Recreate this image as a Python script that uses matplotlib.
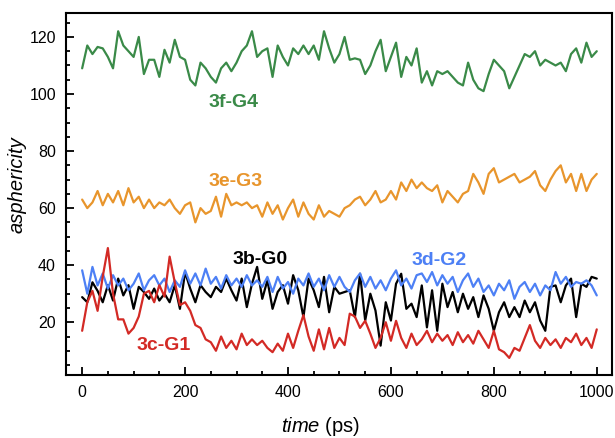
import numpy as np
import matplotlib
matplotlib.use("Agg")
import matplotlib.pyplot as plt
from matplotlib.ticker import MultipleLocator

plt.rcParams['font.family'] = ['Liberation Sans', 'DejaVu Sans']
plt.rcParams['mathtext.fontset'] = 'custom'
plt.rcParams['mathtext.it'] = 'Liberation Sans:italic'
plt.rcParams['mathtext.rm'] = 'Liberation Sans'

# simulation time, ps (every 10 ps)
time = np.arange(0, 1001, 10)

# asphericity of each generation
g4 = [109, 117, 114, 116.5, 116, 113, 109, 122, 117, 115,
      113, 120, 107, 112, 112, 106, 115.5, 111, 119, 113,
      112, 105, 103, 111, 109, 106, 104, 109, 111, 108,
      111, 115, 117, 122, 113, 115, 116, 106, 117, 113,
      110, 116, 114, 117, 114, 117, 112, 122, 116, 111,
      114, 120, 112, 112.5, 112, 107, 110, 115, 119, 108,
      113, 118, 106, 113, 110, 116, 104, 108, 103, 108,
      107, 108, 106, 104, 103, 111, 105, 102, 101, 107,
      112, 110, 108, 102, 106, 110, 114, 113, 115, 110,
      112, 111, 110, 111, 108, 114, 116, 111, 118, 113,
      115]

g3 = [63, 60, 62, 66, 61, 65, 62, 66, 61, 67,
      62, 64, 60, 63, 60, 62, 61, 63, 60, 58,
      61, 62, 55, 60, 58, 59, 64, 57, 65, 61,
      62, 61, 62, 60, 61, 57, 62, 58, 61, 56,
      60, 63, 57, 62, 58, 56, 61, 57, 59, 58,
      57, 60, 61, 63, 64, 61, 63, 66, 62, 63,
      66, 63, 69, 66, 70, 67, 69, 67, 66, 68,
      62, 66, 64, 62, 65, 66, 72, 69, 65, 72,
      74, 69, 70, 71, 72, 69, 70, 71, 73, 68,
      66, 70, 73, 75, 69, 72, 66, 72, 66, 70,
      72]

g0 = [28.8, 27, 34, 31, 27, 33, 27.6, 35.3, 29.4, 33,
      24.7, 32.4, 30.6, 28.2, 31.8, 27.6, 30, 27, 33, 24.7,
      37.6, 31.8, 27, 33, 30.6, 28.8, 32.4, 30.6, 35.3, 31.2,
      27.6, 35.3, 25.3, 33.5, 39.4, 28.2, 34.7, 24.7, 30.6, 33,
      26.5, 36.5, 31.2, 21.8, 35.3, 31.2, 25.3, 35.9, 23.5, 32.4,
      30, 30.6, 31.2, 21.8, 37, 20.6, 30, 24.1, 11.8, 27,
      20.6, 33.5, 37, 24.7, 26.5, 21.8, 32.9, 18.2, 31.2, 17,
      33.5, 25.3, 30.6, 23.5, 30, 24.7, 28.8, 21.8, 29.4, 24.7,
      17, 23.5, 27, 21.8, 25.3, 21.8, 27.6, 23.5, 27, 20.6,
      17, 32.4, 32.9, 27, 32.9, 35.3, 21.8, 33.5, 32.4, 35.9,
      35.3]

g2 = [38.2, 30, 39.4, 32.9, 37.1, 31.8, 36.5, 32.9, 35.3, 31.2,
      33.5, 37.1, 31.2, 34.7, 36.5, 32.9, 35.3, 30.6, 34.7, 32.4,
      38.2, 33.5, 37.1, 32.9, 38.8, 33.5, 35.9, 31.8, 36.5, 32.9,
      35.3, 32.4, 36.5, 32.9, 34.7, 32.4, 35.9, 30.6, 35.9, 31.8,
      34.1, 30, 35.3, 32.9, 37.1, 32.4, 35.3, 31.2, 36.5, 32.4,
      35.9, 32.4, 30.6, 34.7, 37.1, 32.4, 35.9, 31.8, 34.7, 31.2,
      35.3, 38.2, 32.9, 35.3, 31.8, 36.5, 37.1, 34.1, 37.6, 32.9,
      36.5, 33.5, 35.9, 30.6, 34.7, 37.1, 32.4, 35.3, 30.6, 32.9,
      29.4, 33.5, 31.2, 34.7, 28.2, 32.4, 34.1, 30.6, 33.5, 29.4,
      32.9, 31.2, 37.6, 33.5, 35.9, 32.4, 34.1, 33.5, 34.7, 32.9,
      29.4]

g1 = [17, 27, 31, 24, 36, 46, 30, 21, 21, 16,
      18, 22, 30, 31, 27, 33, 29, 43, 34, 26,
      27, 24, 19, 18, 14, 13, 10, 15, 11, 13.5,
      10.5, 16, 12, 14, 12, 13.5, 11, 9.5, 12.5, 10,
      16, 11, 17, 22.5, 15, 10, 17.5, 10.5, 18, 11,
      14.5, 12, 23, 22, 18, 20.5, 16, 11, 14.5, 20,
      13.5, 20.5, 14.5, 11, 16, 12, 14, 17, 13, 16,
      13.5, 15.5, 12, 16.5, 13, 15.5, 12.5, 17, 14, 11,
      17, 10.5, 9.5, 7.5, 11, 10, 14.5, 19, 13.5, 11,
      14.5, 12, 14, 11, 14.5, 13, 16, 12, 14.5, 11,
      17.5]

green = '#3a8a48'
orange = '#e8952c'
blue = '#4d80f5'
red = '#d32a25'

fig = plt.figure(figsize=(6.15, 4.38), dpi=100)
ax = fig.add_axes([0.1068, 0.1438, 0.8878, 0.8272])

line = dict(lw=1.6, solid_joinstyle='round', solid_capstyle='round')
ax.plot(time, g4, color=green, **line)
ax.plot(time, g3, color=orange, **line)
ax.plot(time, g0, color='black', **line)
ax.plot(time, g2, color=blue, **line)
ax.plot(time, g1, color=red, **line)

lab = dict(fontsize=14, fontweight='bold', ha='center', va='center')
ax.text(294, 97, '3f-G4', color=green, **lab)
ax.text(298, 69.3, '3e-G3', color=orange, **lab)
ax.text(345, 42, '3b-G0', color='black', **lab)
ax.text(693, 41.8, '3d-G2', color=blue, **lab)
ax.text(158, 11.8, '3c-G1', color=red, **lab)

ax.set_xlim(-32, 1029)
ax.set_ylim(1.5, 128.5)
ax.xaxis.set_major_locator(MultipleLocator(200))
ax.xaxis.set_minor_locator(MultipleLocator(50))
ax.yaxis.set_major_locator(MultipleLocator(20))
ax.yaxis.set_minor_locator(MultipleLocator(5))
ax.tick_params(which='both', direction='in', top=False, right=False,
               labelsize=11.5, width=1.3)
ax.tick_params(which='major', length=6, pad=7)
ax.tick_params(which='minor', length=3.2)
for s in ax.spines.values():
    s.set_linewidth(1.5)

ax.set_xlabel(r'$\it{time}$ (ps)', fontsize=14.5)
ax.set_ylabel('asphericity', fontsize=14.5, style='italic')
ax.xaxis.set_label_coords(0.466, -0.11)
ax.yaxis.set_label_coords(-0.071, 0.526)

fig.savefig('out.png', dpi=100)
